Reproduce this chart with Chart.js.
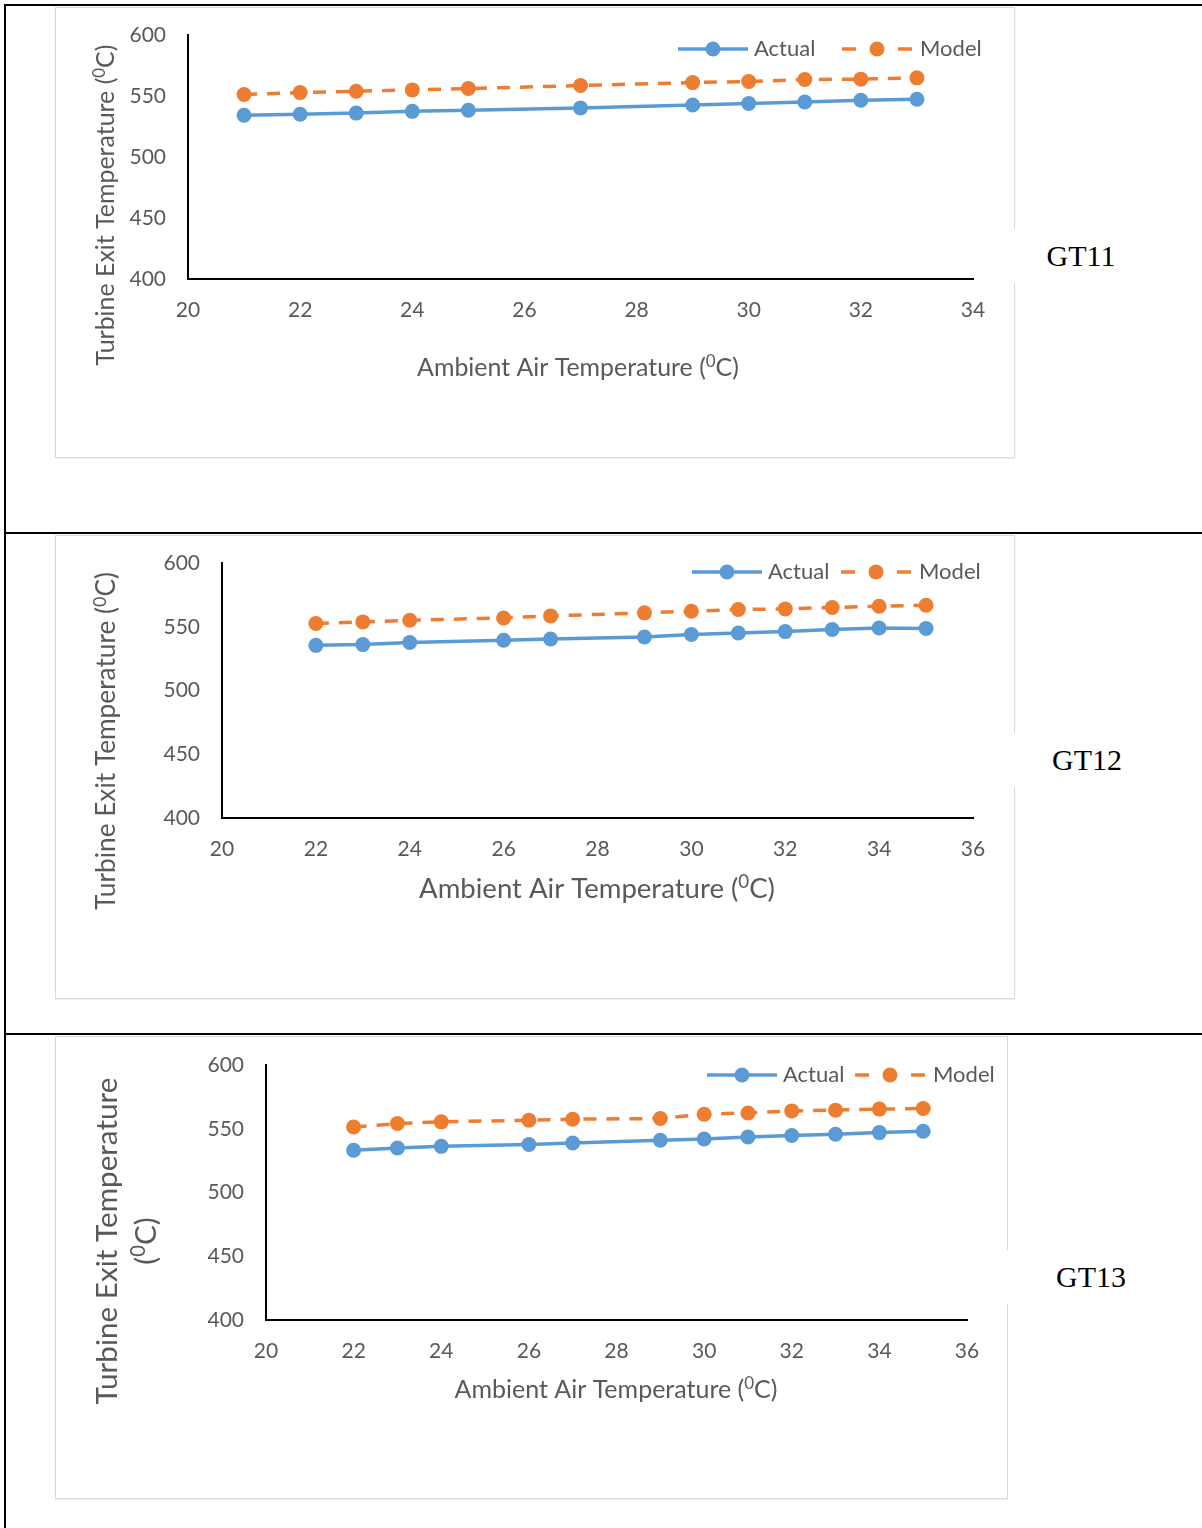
<!DOCTYPE html>
<html><head><meta charset="utf-8">
<script src="https://cdn.jsdelivr.net/npm/chart.js@4.4.0/dist/chart.umd.min.js"></script>
<style>
body{margin:0;background:#fff;width:1202px;height:1528px;position:relative;overflow:hidden;}
.ln{position:absolute;background:#000;}
.frame{position:absolute;border:1px solid #d9d9d9;box-sizing:border-box;box-shadow:0 1px 1px rgba(0,0,0,0.06);}
canvas{position:absolute;}
.gt{position:absolute;background:#fff;font-family:"Liberation Serif","Times New Roman",serif;font-size:30px;color:#000;display:flex;align-items:center;justify-content:center;}
</style></head><body>
<div class="ln" style="left:4px;top:4px;width:1198px;height:2px"></div>
<div class="ln" style="left:4px;top:4px;width:2px;height:1524px"></div>
<div class="ln" style="left:4px;top:532px;width:1198px;height:2px"></div>
<div class="ln" style="left:4px;top:1033px;width:1198px;height:2px"></div>

<div class="frame" style="left:55px;top:7px;width:960px;height:451px"></div>
<div class="frame" style="left:55px;top:535px;width:960px;height:464px"></div>
<div class="frame" style="left:55px;top:1036px;width:953px;height:463px"></div>

<canvas id="c1" width="960" height="451" style="left:55px;top:7px"></canvas>
<canvas id="c2" width="960" height="464" style="left:55px;top:535px"></canvas>
<canvas id="c3" width="953" height="463" style="left:55px;top:1036px"></canvas>

<div class="gt" style="left:1010px;top:229px;width:142px;height:54px">GT11</div>
<div class="gt" style="left:1010px;top:733px;width:154px;height:54px">GT12</div>
<div class="gt" style="left:1003px;top:1250px;width:176px;height:54px">GT13</div>

<script>
// ---- data ----
const seriesNames = ['Actual', 'Model'];
const yTicks = [400, 450, 500, 550, 600];

const gt11Temp   = [21, 22, 23, 24, 25, 27, 29, 30, 31, 32, 33];
const gt11Actual = [534.2, 535.0, 536.0, 537.4, 538.3, 540.2, 542.6, 543.8, 545.1, 546.5, 547.3];
const gt11Model  = [551.2, 552.8, 553.9, 555.0, 556.1, 558.6, 561.0, 561.9, 563.5, 563.8, 564.9];
const gt11XTicks = [20, 22, 24, 26, 28, 30, 32, 34];

const gt12Temp   = [22, 23, 24, 26, 27, 29, 30, 31, 32, 33, 34, 35];
const gt12Actual = [535.4, 536.0, 537.6, 539.4, 540.4, 542.0, 543.9, 545.1, 546.2, 547.8, 549.0, 548.6];
const gt12Model  = [552.5, 553.8, 555.1, 556.9, 558.5, 560.9, 562.2, 563.5, 564.0, 565.1, 566.1, 566.9];
const gt12XTicks = [20, 22, 24, 26, 28, 30, 32, 34, 36];

const gt13Temp   = [22, 23, 24, 26, 27, 29, 30, 31, 32, 33, 34, 35];
const gt13Actual = [533.1, 534.9, 536.2, 537.6, 538.8, 541.0, 542.0, 543.5, 544.7, 545.7, 547.0, 548.0];
const gt13Model  = [551.4, 554.1, 555.4, 556.7, 557.5, 558.0, 561.4, 562.4, 564.0, 564.6, 565.4, 565.9];
const gt13XTicks = [20, 22, 24, 26, 28, 30, 32, 34, 36];

const xTitle = 'Ambient Air Temperature (';
const yTitle = 'Turbine Exit Temperature';

// ---- styles ----
const BLUE = '#5B9BD5', ORANGE = '#ED7D31', TXT = '#595959';
const FONT = 'Lato, "Open Sans", sans-serif';

function richParts(text) { return [{t: text}, {t: '0', sup: true}, {t: 'C)'}]; }
function richWidth(ctx, parts, size) {
  let w = 0;
  parts.forEach(p => { ctx.font = (p.sup ? size * 0.68 : size) + 'px ' + FONT; w += ctx.measureText(p.t).width; });
  return w;
}
function drawParts(ctx, parts, cx, cy, size) {
  const w = richWidth(ctx, parts, size);
  let x = cx - w / 2;
  ctx.textBaseline = 'middle'; ctx.textAlign = 'left'; ctx.fillStyle = TXT;
  parts.forEach(p => {
    const s = p.sup ? size * 0.68 : size;
    ctx.font = s + 'px ' + FONT;
    ctx.fillText(p.t, x, p.sup ? cy - size * 0.26 : cy);
    x += ctx.measureText(p.t).width;
  });
}
function fitSize(ctx, parts, target) { return 20 * target / richWidth(ctx, parts, 20); }

function makeChart(id, frame, plot, temps, actual, model, xTicks, deco) {
  const canvas = document.getElementById(id);
  const W = canvas.width, H = canvas.height;
  const yw = plot.l - frame.x, padTop = plot.t - frame.y;
  const padRight = W - (plot.r - frame.x), xh = H - (plot.b - frame.y) - 1;
  const decoPlugin = {
    id: 'deco',
    afterDraw(chart) {
      const ctx = chart.ctx;
      ctx.save();
      // x title
      const xp = richParts(xTitle);
      const xs = fitSize(ctx, xp, deco.xt.w);
      drawParts(ctx, xp, deco.xt.x - frame.x, deco.xt.y - frame.y, xs);
      // y title
      ctx.save();
      if (deco.yt.twoLine) {
        const p1 = [{t: yTitle}];
        const s1 = fitSize(ctx, p1, deco.yt.w);
        ctx.translate(deco.yt.x - frame.x, deco.yt.y - frame.y);
        ctx.rotate(-Math.PI / 2);
        drawParts(ctx, p1, 0, 0, s1);
        ctx.restore(); ctx.save();
        ctx.translate(deco.yt.x2 - frame.x, deco.yt.y - frame.y);
        ctx.rotate(-Math.PI / 2);
        drawParts(ctx, richParts('('), 0, 0, s1);
      } else {
        const yp = richParts(yTitle + ' (');
        const ys = fitSize(ctx, yp, deco.yt.w);
        ctx.translate(deco.yt.x - frame.x, deco.yt.y - frame.y);
        ctx.rotate(-Math.PI / 2);
        drawParts(ctx, yp, 0, 0, ys);
      }
      ctx.restore();
      // legend
      const ly = deco.lg.y - frame.y;
      const items = [
        {x1: deco.lg.a, color: BLUE, dashed: false, text: seriesNames[0], gap: 6},
        {x1: deco.lg.m, color: ORANGE, dashed: true, text: seriesNames[1], gap: 8}
      ];
      items.forEach(it => {
        const x1 = it.x1 - frame.x, x2 = x1 + 70, xm = x1 + 35;
        ctx.strokeStyle = it.color; ctx.lineWidth = 3.5; ctx.lineCap = 'butt';
        ctx.beginPath();
        if (it.dashed) {
          ctx.moveTo(x1, ly); ctx.lineTo(x1 + 14, ly);
          ctx.moveTo(x2 - 14, ly); ctx.lineTo(x2, ly);
        } else {
          ctx.moveTo(x1, ly); ctx.lineTo(x2, ly);
        }
        ctx.stroke();
        ctx.fillStyle = it.color;
        ctx.beginPath(); ctx.arc(xm, ly, 7.5, 0, Math.PI * 2); ctx.fill();
        ctx.fillStyle = TXT; ctx.font = '22px ' + FONT;
        ctx.textAlign = 'left'; ctx.textBaseline = 'middle';
        ctx.fillText(it.text, x2 + it.gap, ly);
      });
      ctx.restore();
    }
  };
  const tickFont = {family: FONT, size: 21};
  const hiddenTicks = len => ({display: true, drawOnChartArea: false, drawTicks: true, tickLength: len, color: 'rgba(0,0,0,0)'});
  return new Chart(canvas, {
    type: 'line',
    data: {
      datasets: [
        {label: seriesNames[0], data: temps.map((t, i) => ({x: t, y: actual[i]})),
         borderColor: BLUE, backgroundColor: BLUE, borderWidth: 3.5, pointRadius: 7.5,
         pointBorderWidth: 0, pointBackgroundColor: BLUE, tension: 0, fill: false},
        {label: seriesNames[1], data: temps.map((t, i) => ({x: t, y: model[i]})),
         borderColor: ORANGE, backgroundColor: ORANGE, borderWidth: 3.5, borderDash: [13, 10], pointRadius: 7.5,
         pointBorderWidth: 0, pointBackgroundColor: ORANGE, tension: 0, fill: false}
      ]
    },
    options: {
      responsive: false, animation: false, devicePixelRatio: 1,
      layout: {padding: {left: 0, top: padTop, right: padRight, bottom: 0}},
      plugins: {legend: {display: false}, tooltip: {enabled: false}},
      scales: {
        x: {
          type: 'linear', min: xTicks[0], max: xTicks[xTicks.length - 1],
          ticks: {stepSize: xTicks[1] - xTicks[0], font: tickFont, color: TXT, padding: 0, maxRotation: 0, autoSkip: false},
          grid: hiddenTicks(19),
          border: {display: true, color: '#000', width: 2},
          afterFit(s) { s.height = xh; }
        },
        y: {
          min: yTicks[0], max: yTicks[yTicks.length - 1],
          ticks: {stepSize: yTicks[1] - yTicks[0], font: tickFont, color: TXT, padding: 0},
          grid: hiddenTicks(22),
          border: {display: true, color: '#000', width: 2},
          afterFit(s) { s.width = yw; }
        }
      }
    },
    plugins: [decoPlugin]
  });
}

makeChart('c1', {x: 55, y: 7}, {l: 188, t: 35, r: 973, b: 278},
  gt11Temp, gt11Actual, gt11Model, gt11XTicks,
  {xt: {x: 578, y: 368, w: 322}, yt: {x: 106, y: 205, w: 321}, lg: {y: 49, a: 678, m: 842}});
makeChart('c2', {x: 55, y: 535}, {l: 222, t: 563, r: 973, b: 817},
  gt12Temp, gt12Actual, gt12Model, gt12XTicks,
  {xt: {x: 597, y: 889, w: 356}, yt: {x: 107, y: 741, w: 338}, lg: {y: 572, a: 692, m: 841}});
makeChart('c3', {x: 55, y: 1036}, {l: 266, t: 1065, r: 967, b: 1319},
  gt13Temp, gt13Actual, gt13Model, gt13XTicks,
  {xt: {x: 616, y: 1390, w: 323}, yt: {twoLine: true, x: 107, x2: 146, y: 1241, w: 327}, lg: {y: 1075, a: 707, m: 855}});
</script>
</body></html>
